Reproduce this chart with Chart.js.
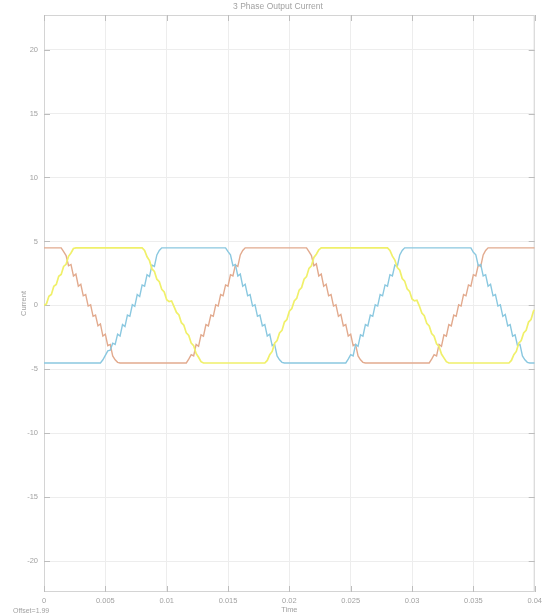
<!DOCTYPE html>
<html>
<head>
<meta charset="utf-8">
<title>3 Phase Output Current</title>
<script src="https://cdn.jsdelivr.net/npm/chart.js@4.4.1/dist/chart.umd.min.js"></script>
<style>
  html, body { margin: 0; padding: 0; background: #fff; }
  #wrap { position: relative; width: 546px; height: 614px; }
</style>
</head>
<body>
<div id="wrap"><canvas id="chart"></canvas></div>
<script>
const chartTitle = "3 Phase Output Current";
const xTitle = "Time";
const yTitle = "Current";
const offsetNote = "Offset=1.99";

const xTicks = [0, 0.005, 0.01, 0.015, 0.02, 0.025, 0.03, 0.035, 0.04];
const xTickLabels = ["0", "0.005", "0.01", "0.015", "0.02", "0.025", "0.03", "0.035", "0.04"];
const yTicks = [-20, -15, -10, -5, 0, 5, 10, 15, 20];

// [time, current]
const phaseA = [
  [0, 0.02], [0.0002, 0.12], [0.0004, 0.71], [0.0006, 0.86], [0.0008, 1.49], [0.0010, 1.64],
  [0.0012, 2.27], [0.0014, 2.42], [0.0016, 3.05], [0.0018, 3.21], [0.0020, 3.84], [0.0022, 4.10],
  [0.0024, 4.45], [0.0026, 4.5], [0.0080, 4.5],
  [0.0082, 4.30], [0.0084, 3.80], [0.0086, 3.50], [0.0088, 2.85], [0.0090, 2.65], [0.0092, 2.05],
  [0.0094, 1.85], [0.0096, 1.25], [0.0098, 1.05], [0.0100, 0.45], [0.0102, 0.30], [0.0104, 0.35],
  [0.0106, -0.10], [0.0108, -0.55], [0.0110, -0.75], [0.0112, -1.35], [0.0114, -1.55], [0.0116, -2.15],
  [0.0118, -2.35], [0.0120, -2.95], [0.0122, -3.15], [0.0124, -3.75], [0.0126, -4.05], [0.0128, -4.40],
  [0.0130, -4.5], [0.0180, -4.5],
  [0.0182, -4.30], [0.0184, -3.85], [0.0186, -3.60], [0.0188, -2.95], [0.0190, -2.75], [0.0192, -2.15],
  [0.0194, -1.95], [0.0196, -1.30], [0.0198, -1.10], [0.0200, -0.45], [0.0202, -0.25], [0.0204, 0.35],
  [0.0206, 0.55], [0.0208, 1.20], [0.0210, 1.40], [0.0212, 2.05], [0.0214, 2.25], [0.0216, 2.90],
  [0.0218, 3.10], [0.0220, 3.75], [0.0222, 4.00], [0.0224, 4.35], [0.0226, 4.5], [0.0280, 4.5],
  [0.0282, 4.30], [0.0284, 3.85], [0.0286, 3.55], [0.0288, 2.95], [0.0290, 2.75], [0.0292, 2.10],
  [0.0294, 1.90], [0.0296, 1.30], [0.0298, 1.10], [0.0300, 0.50], [0.0302, 0.35], [0.0304, 0.40],
  [0.0306, -0.05], [0.0308, -0.60], [0.0310, -0.80], [0.0312, -1.40], [0.0314, -1.60], [0.0316, -2.20],
  [0.0318, -2.40], [0.0320, -3.00], [0.0322, -3.20], [0.0324, -3.80], [0.0326, -4.10], [0.0328, -4.40],
  [0.0330, -4.5], [0.0379, -4.5],
  [0.0381, -4.30], [0.0383, -3.85], [0.0385, -3.60], [0.0387, -2.95], [0.0389, -2.75], [0.0391, -2.15],
  [0.0393, -1.95], [0.0395, -1.30], [0.0397, -1.10], [0.0399, -0.45], [0.0400, -0.35]
];

const phaseB = [
  [0, -4.5], [0.0046, -4.5],
  [0.0048, -4.25], [0.0050, -3.90], [0.0052, -3.55], [0.0054, -3.50], [0.0056, -2.95], [0.0058, -3.05],
  [0.0060, -2.25], [0.0062, -2.40], [0.0064, -1.50], [0.0066, -1.65], [0.0068, -0.75], [0.0070, -0.85],
  [0.0072, 0.05], [0.0074, -0.08], [0.0076, 0.85], [0.0078, 0.70], [0.0080, 1.60], [0.0082, 1.50],
  [0.0084, 2.40], [0.0086, 2.25], [0.0088, 3.15], [0.0090, 3.05], [0.0092, 3.95], [0.0094, 4.30],
  [0.0096, 4.5], [0.0148, 4.5],
  [0.0150, 4.20], [0.0152, 3.95], [0.0154, 3.10], [0.0156, 3.20], [0.0158, 2.30], [0.0160, 2.45],
  [0.0162, 1.50], [0.0164, 1.65], [0.0166, 0.75], [0.0168, 0.85], [0.0170, -0.05], [0.0172, 0.05],
  [0.0174, -0.85], [0.0176, -0.75], [0.0178, -1.60], [0.0180, -1.50], [0.0182, -2.40], [0.0184, -2.25],
  [0.0186, -3.15], [0.0188, -3.05], [0.0190, -3.95], [0.0192, -4.25], [0.0194, -4.45], [0.0196, -4.5],
  [0.0246, -4.5],
  [0.0248, -4.20], [0.0250, -3.85], [0.0252, -3.95], [0.0254, -3.05], [0.0256, -3.20], [0.0258, -2.30],
  [0.0260, -2.40], [0.0262, -1.50], [0.0264, -1.60], [0.0266, -0.75], [0.0268, -0.85], [0.0270, 0.05],
  [0.0272, -0.05], [0.0274, 0.85], [0.0276, 0.75], [0.0278, 1.60], [0.0280, 1.50], [0.0282, 2.40],
  [0.0284, 2.30], [0.0286, 3.15], [0.0288, 3.05], [0.0290, 3.95], [0.0292, 4.30], [0.0294, 4.5],
  [0.0348, 4.5],
  [0.0350, 4.15], [0.0352, 3.95], [0.0354, 3.10], [0.0356, 3.20], [0.0358, 2.30], [0.0360, 2.40],
  [0.0362, 1.50], [0.0364, 1.65], [0.0366, 0.75], [0.0368, 0.85], [0.0370, -0.05], [0.0372, 0.05],
  [0.0374, -0.85], [0.0376, -0.70], [0.0378, -1.60], [0.0380, -1.50], [0.0382, -2.40], [0.0384, -2.30],
  [0.0386, -3.15], [0.0388, -3.05], [0.0390, -3.95], [0.0392, -4.25], [0.0394, -4.45], [0.0396, -4.5],
  [0.0400, -4.5]
];

const phaseC = [
  [0, 4.5], [0.0014, 4.5],
  [0.0016, 4.20], [0.0018, 3.90], [0.0020, 3.10], [0.0022, 3.20], [0.0024, 2.30], [0.0026, 2.45],
  [0.0028, 1.50], [0.0030, 1.65], [0.0032, 0.75], [0.0034, 0.85], [0.0036, -0.05], [0.0038, 0.05],
  [0.0040, -0.85], [0.0042, -0.75], [0.0044, -1.60], [0.0046, -1.45], [0.0048, -2.40], [0.0050, -2.25],
  [0.0052, -3.15], [0.0054, -3.05], [0.0056, -3.95], [0.0058, -4.25], [0.0060, -4.45], [0.0062, -4.5],
  [0.0116, -4.5],
  [0.0118, -4.20], [0.0120, -3.85], [0.0122, -3.95], [0.0124, -3.05], [0.0126, -3.20], [0.0128, -2.30],
  [0.0130, -2.40], [0.0132, -1.50], [0.0134, -1.60], [0.0136, -0.75], [0.0138, -0.85], [0.0140, 0.05],
  [0.0142, -0.05], [0.0144, 0.85], [0.0146, 0.75], [0.0148, 1.60], [0.0150, 1.50], [0.0152, 2.40],
  [0.0154, 2.30], [0.0156, 3.15], [0.0158, 3.05], [0.0160, 3.95], [0.0162, 4.30], [0.0164, 4.5],
  [0.0214, 4.5],
  [0.0216, 4.20], [0.0218, 3.90], [0.0220, 3.10], [0.0222, 3.25], [0.0224, 2.30], [0.0226, 2.45],
  [0.0228, 1.50], [0.0230, 1.65], [0.0232, 0.75], [0.0234, 0.85], [0.0236, -0.05], [0.0238, 0.05],
  [0.0240, -0.85], [0.0242, -0.70], [0.0244, -1.60], [0.0246, -1.50], [0.0248, -2.40], [0.0250, -2.25],
  [0.0252, -3.15], [0.0254, -3.05], [0.0256, -3.95], [0.0258, -4.25], [0.0260, -4.45], [0.0262, -4.5],
  [0.0314, -4.5],
  [0.0316, -4.20], [0.0318, -3.85], [0.0320, -3.95], [0.0322, -3.05], [0.0324, -3.20], [0.0326, -2.30],
  [0.0328, -2.40], [0.0330, -1.50], [0.0332, -1.60], [0.0334, -0.75], [0.0336, -0.85], [0.0338, 0.05],
  [0.0340, -0.05], [0.0342, 0.85], [0.0344, 0.75], [0.0346, 1.60], [0.0348, 1.50], [0.0350, 2.40],
  [0.0352, 2.30], [0.0354, 3.15], [0.0356, 3.05], [0.0358, 3.95], [0.0360, 4.30], [0.0362, 4.5],
  [0.0400, 4.5]
];

const toPoints = (rows) => rows.map(([x, y]) => ({ x, y }));

const textColor = "#a2a2a2";
const fontFamily = "'Liberation Sans', Arial, sans-serif";

// box round the plot, with short ticks pointing inwards, plus title and offset note
const framePlugin = {
  id: "frame",
  beforeDatasetsDraw(chart) {
    const { ctx, chartArea: a, scales } = chart;
    ctx.save();
    ctx.strokeStyle = "#d4d4d4";
    ctx.lineWidth = 1;
    ctx.strokeRect(a.left + 0.5, a.top + 0.5, a.right - a.left - 1, a.bottom - a.top - 1);
    ctx.strokeStyle = "#bdbdbd";
    ctx.beginPath();
    yTicks.forEach((v) => {
      const y = Math.round(scales.y.getPixelForValue(v)) + 0.5;
      ctx.moveTo(a.left, y); ctx.lineTo(a.left + 6, y);
      ctx.moveTo(a.right - 6, y); ctx.lineTo(a.right, y);
    });
    xTicks.forEach((v) => {
      const x = Math.round(scales.x.getPixelForValue(v)) + 0.5;
      ctx.moveTo(x, a.bottom); ctx.lineTo(x, a.bottom - 6);
      ctx.moveTo(x, a.top); ctx.lineTo(x, a.top + 6);
    });
    ctx.stroke();
    ctx.restore();
  },
  afterDraw(chart) {
    const { ctx } = chart;
    ctx.save();
    ctx.fillStyle = textColor;
    ctx.font = "8.5px " + fontFamily;
    ctx.textAlign = "center";
    ctx.textBaseline = "middle";
    ctx.fillText(chartTitle, 278, 7);
    ctx.font = "7px " + fontFamily;
    ctx.textAlign = "left";
    ctx.fillText(offsetNote, 13, 611);
    ctx.restore();
  }
};

new Chart(document.getElementById("chart"), {
  type: "line",
  data: {
    datasets: [
      { label: "Phase A", data: toPoints(phaseA), borderColor: "#f0f06a", borderWidth: 1.7 },
      { label: "Phase B", data: toPoints(phaseB), borderColor: "#8ac8e0", borderWidth: 1.4 },
      { label: "Phase C", data: toPoints(phaseC), borderColor: "#e2aa8e", borderWidth: 1.4 }
    ]
  },
  options: {
    responsive: true,
    maintainAspectRatio: false,
    animation: false,
    events: [],
    layout: { padding: { left: 0, right: 9, top: 15, bottom: 0 } },
    elements: { point: { radius: 0 }, line: { tension: 0 } },
    plugins: { legend: { display: false }, tooltip: { enabled: false } },
    scales: {
      x: {
        type: "linear",
        min: 0,
        max: 0.04,
        afterBuildTicks: (s) => { s.ticks = xTicks.map((value) => ({ value })); },
        afterFit: (s) => { s.height = 22; },
        grid: { color: "#ededed", drawTicks: false },
        border: { display: false },
        ticks: {
          padding: 4,
          maxRotation: 0,
          autoSkip: false,
          color: textColor,
          font: { family: fontFamily, size: 7.5 },
          callback: (v, i) => xTickLabels[i]
        },
        title: {
          display: true,
          text: xTitle,
          color: textColor,
          font: { family: fontFamily, size: 7.5 },
          padding: 0
        }
      },
      y: {
        min: -22.4,
        max: 22.7,
        afterBuildTicks: (s) => { s.ticks = yTicks.map((value) => ({ value })); },
        afterFit: (s) => { s.width = 44; },
        grid: { color: "#ededed", drawTicks: false },
        border: { display: false },
        ticks: {
          padding: 6,
          color: textColor,
          font: { family: fontFamily, size: 7.5 },
          callback: (v) => String(v)
        },
        title: {
          display: true,
          text: yTitle,
          color: textColor,
          font: { family: fontFamily, size: 7.5 },
          padding: { top: 19, bottom: 0 }
        }
      }
    }
  },
  plugins: [framePlugin]
});
</script>
</body>
</html>
